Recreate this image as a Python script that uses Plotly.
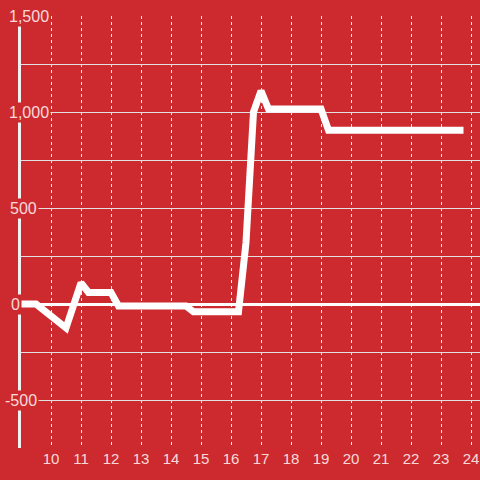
import plotly.graph_objects as go

# data
hours = [9.0, 9.5, 10.5, 11.0, 11.25, 12.0, 12.25, 14.5, 14.75, 16.25, 16.5, 16.75, 17.0, 17.25, 19.0, 19.25, 23.75]
values = [0, 0, -125, 110, 60, 60, -10, -10, -40, -40, 320, 1000, 1110, 1015, 1015, 905, 905]
x_ticks = list(range(10, 25))
y_tick_vals = [1500, 1000, 500, 0, -500]
y_tick_text = ["1,500", "1,000", "500", "0", "-500"]
y_label_shift = [-14, -14, -13, -12, -18]

BG = "#cc2a2e"
LABEL = "rgba(255,240,240,0.9)"
FONT = "Liberation Sans, Arial, sans-serif"

fig = go.Figure()
fig.add_trace(go.Scatter(
    x=hours, y=values, mode="lines",
    line=dict(color="white", width=7),
    hoverinfo="skip", showlegend=False,
))

annotations = []
for v, t, s in zip(y_tick_vals, y_tick_text, y_label_shift):
    annotations.append(dict(
        x=0, xref="paper", y=v, yref="y", text=t, showarrow=False,
        xanchor="left", yanchor="middle", xshift=s,
        bgcolor=BG, borderpad=1,
        font=dict(family=FONT, size=16, color=LABEL),
    ))

fig.update_layout(
    width=480, height=480, autosize=False,
    margin=dict(l=21, r=0, t=16, b=32, pad=0, autoexpand=False),
    paper_bgcolor=BG, plot_bgcolor=BG,
    font=dict(family=FONT, size=14, color=LABEL),
    annotations=annotations,
    xaxis=dict(
        range=[9, 24.3], tickvals=x_ticks, ticks="", automargin=False,
        showgrid=True, gridcolor="rgba(255,255,255,0.9)", gridwidth=1, griddash="dot",
        zeroline=False, showline=False,
        tickfont=dict(family=FONT, size=15, color=LABEL),
    ),
    yaxis=dict(
        range=[-750, 1500], tickvals=list(range(-750, 1501, 250)), automargin=False,
        showticklabels=False, ticks="",
        showgrid=True, gridcolor="rgba(225,225,225,1)", gridwidth=1,
        zeroline=True, zerolinecolor="white", zerolinewidth=3,
        showline=True, linecolor="#f2f2f2", linewidth=3,
    ),
)

fig.write_html(
    "out.html",
    config={"displayModeBar": False},
    post_script="document.body.style.margin='0';document.body.style.overflow='hidden';document.body.style.background='#cc2a2e';",
)
